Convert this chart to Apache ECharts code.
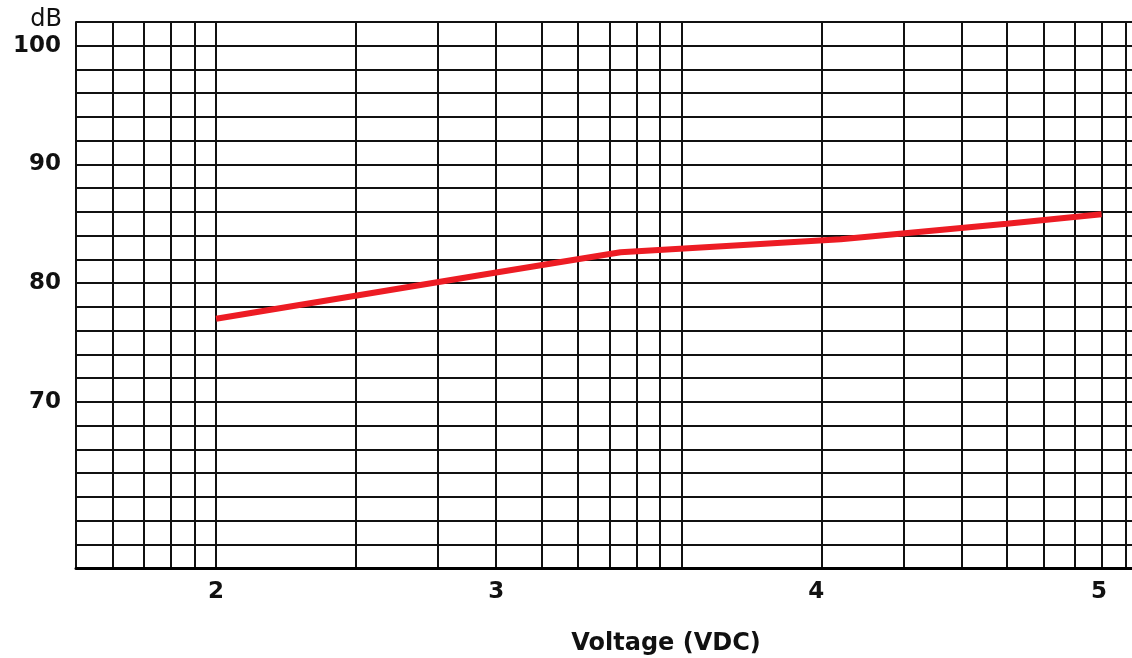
<!DOCTYPE html>
<html><head><meta charset="utf-8">
<script src="https://cdn.jsdelivr.net/npm/echarts@6/dist/echarts.min.js"></script>
<style>html,body{margin:0;padding:0;background:#fff}#c{width:1132px;height:658px}</style>
</head><body><div id="c"></div>
<script>
// vertical grid lines of the log paper (x-axis in paper units)
const gridLineValues = [0.6,0.7,0.8,0.9,1,2,3,4,5,6,7,8,9,10,20,30,40,50,60,70,80,90];
// where the voltage labels sit on the paper scale, and their texts
const xTickPositions = [1, 4, 19.5, 79];
const xTickLabels = ['2', '3', '4', '5'];
// y labels shown
const yLabelValues = [70, 80, 90, 100];
// red curve (x in paper units, y in dB)
const curveX = [1, 4, 7.4, 22, 50, 80];
const curveDb = [77.0, 80.9, 82.6, 83.7, 85.0, 85.8];

const FONT = 'DejaVu Sans';
const chart = echarts.init(document.getElementById('c'), null, {renderer: 'canvas'});
const curve = curveX.map((x, i) => [x, curveDb[i]]);

chart.setOption({
  animation: false,
  backgroundColor: '#fff',
  grid: {left: 76, right: 0, top: 22, bottom: 90},
  xAxis: {
    type: 'log', logBase: 10, min: 0.5, max: 93,
    axisLine: {show: true, onZero: false, lineStyle: {color: '#000', width: 3}},
    axisTick: {show: false, customValues: gridLineValues},
    minorTick: {show: false},
    axisLabel: {
      customValues: xTickPositions, margin: 13,
      fontFamily: FONT, fontSize: 23, fontWeight: 'bold', color: '#111',
      formatter: function (v) {
        let best = 0, d = Infinity;
        xTickPositions.forEach((p, i) => { const e = Math.abs(Math.log(p) - Math.log(v)); if (e < d) { d = e; best = i; } });
        return xTickLabels[best];
      }
    },
    splitLine: {show: true, lineStyle: {color: '#111', width: 2}}
  },
  yAxis: {
    type: 'value', min: 56, max: 102, interval: 2,
    axisLine: {show: true, lineStyle: {color: '#111', width: 2}},
    axisTick: {show: false},
    axisLabel: {
      margin: 15, fontFamily: FONT, fontSize: 23, fontWeight: 'bold', color: '#111',
      formatter: v => (yLabelValues.indexOf(v) >= 0 ? String(v) : '')
    },
    splitLine: {show: true, lineStyle: {color: '#111', width: 2}}
  },
  graphic: [
    {type: 'text', x: 62, y: 20, style: {text: 'dB', fontFamily: FONT, fontSize: 24, fill: '#111', align: 'right', verticalAlign: 'middle'}},
    {type: 'text', x: 666, y: 644, style: {text: 'Voltage (VDC)', fontFamily: FONT, fontSize: 24, fontWeight: 'bold', fill: '#111', align: 'center', verticalAlign: 'middle'}}
  ],
  series: [{
    type: 'line', data: curve, showSymbol: false, z: 5,
    lineStyle: {color: '#ed1c24', width: 6}
  }]
});
</script></body></html>
